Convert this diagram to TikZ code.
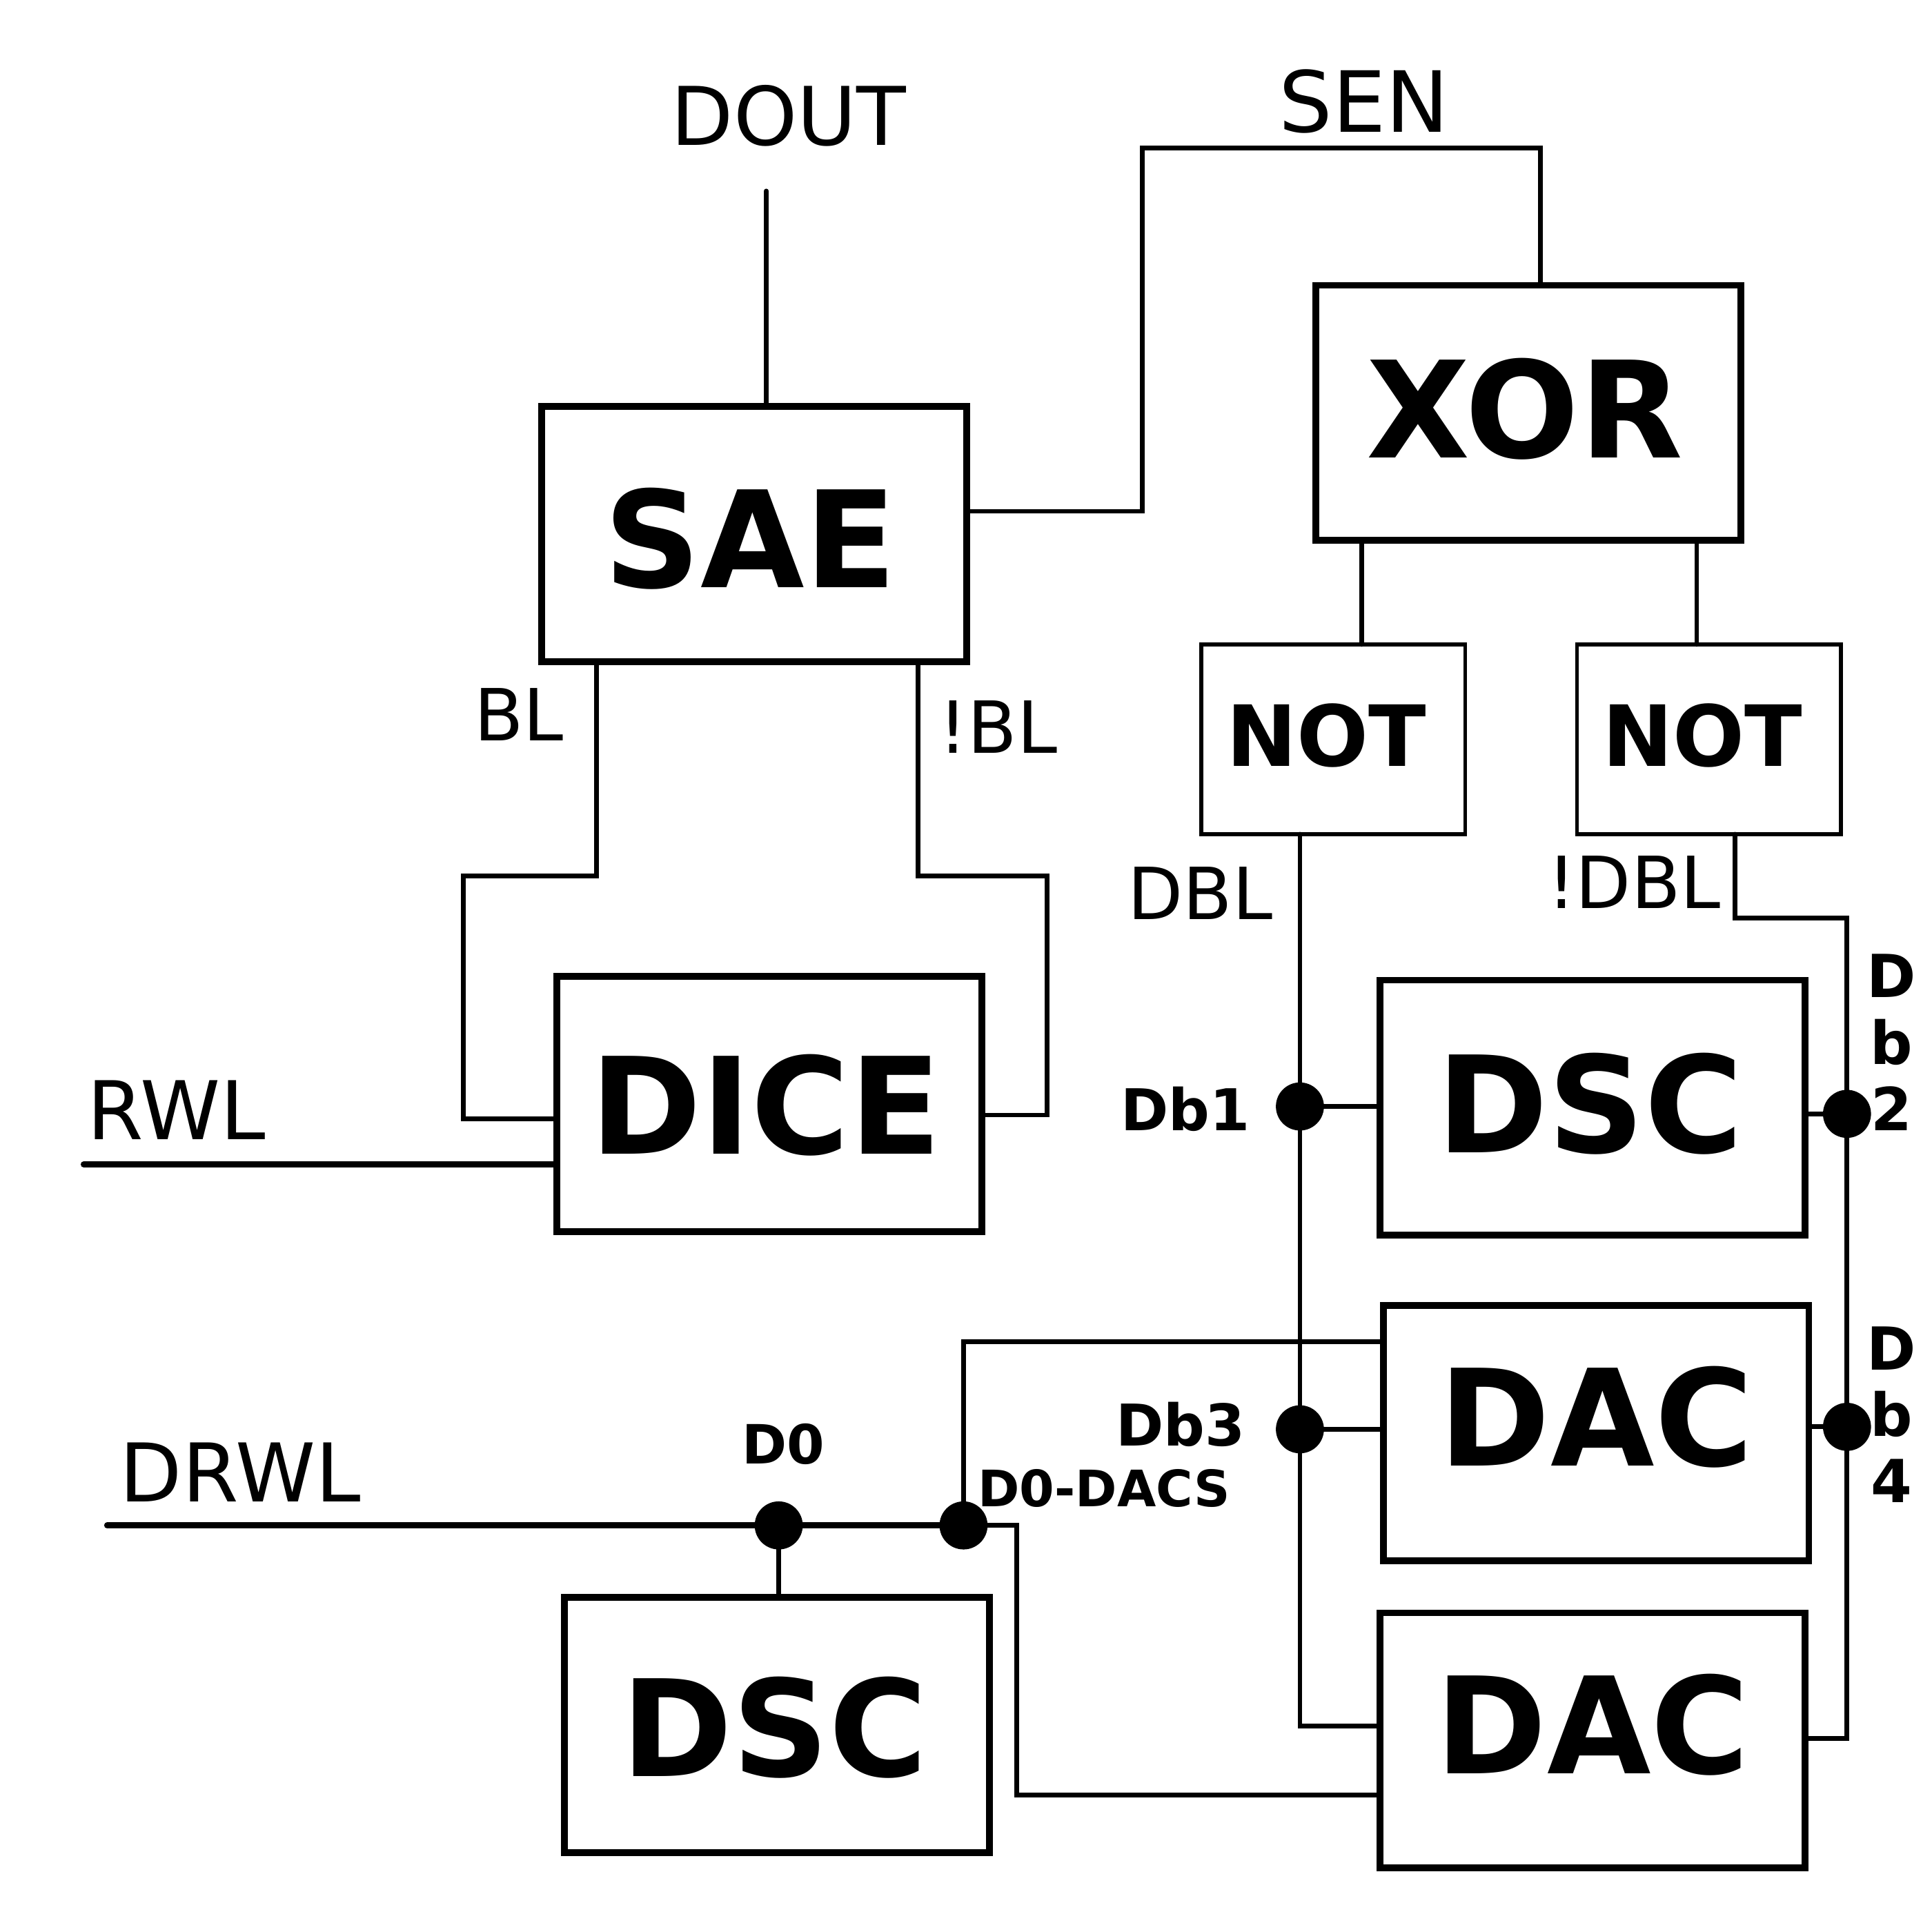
\documentclass[tikz,border=0pt]{standalone}
\usepackage{fontspec}
\setmainfont{DejaVu Sans}
\usetikzlibrary{calc}
\newcommand{\boxtxt}[3]{\raisebox{\dimexpr#2-\fontcharht\font`D/2\relax}[0pt][0pt]{\makebox[0pt][c]{\hspace*{\dimexpr(#1)*2\relax}#3}}}
\begin{document}
\begin{tikzpicture}[x=0.1mm,y=-0.1mm,
 box/.style={draw,line width=0.55mm,minimum width=34.5mm,minimum height=20.7mm,inner sep=0,outer sep=0,font=\bfseries\fontsize{31}{36}\selectfont},
 notbox/.style={draw,line width=0.3mm,minimum width=21.4mm,minimum height=15.4mm,inner sep=0,outer sep=0,font=\bfseries\fontsize{19.5}{22}\selectfont},
 wire/.style={line width=0.38mm,line cap=round},
 thickwire/.style={line width=0.5mm,line cap=round},
 dot/.style={circle,fill,inner sep=0,outer sep=0,minimum size=3.9mm},
 lab/.style={inner sep=0,font=\fontsize{18.7}{22}\selectfont},
 slab/.style={inner sep=0,font=\fontsize{16.6}{20}\selectfont},
 blab/.style={inner sep=0,font=\bfseries\fontsize{13.3}{15.35}\selectfont,align=center}]
\useasboundingbox[fill=white] (0,0) rectangle (1568,1568);

% boxes
\node[box] (SAE) at (612,433.5) {\boxtxt{-0.3mm}{-0.35mm}{SAE}};
\node[box] (XOR) at (1240.5,335) {\boxtxt{-0.3mm}{0.3mm}{XOR}};
\node[box] (DICE) at (624.5,896) {\boxtxt{-0.3mm}{-0.1mm}{DICE}};
\node[box] (DSCr) at (1292.5,899) {\boxtxt{-0.2mm}{0.3mm}{DSC}};
\node[box] (DACm) at (1295.5,1163) {\boxtxt{0mm}{1.3mm}{DAC}};
\node[box] (DACb) at (1292.5,1412.5) {\boxtxt{0mm}{1.25mm}{DAC}};
\node[box] (DSCl) at (630.5,1400) {\boxtxt{-0.2mm}{-0.2mm}{DSC}};
\node[notbox] (NOT1) at (1082,600) {\boxtxt{-0.55mm}{0.3mm}{NOT}};
\node[notbox] (NOT2) at (1387,600) {\boxtxt{-0.55mm}{0.3mm}{NOT}};

% dots
\node[dot] (db1) at (1055,898) {};
\node[dot] (db3) at (1055,1160) {};
\node[dot] (db2) at (1499,904) {};
\node[dot] (db4) at (1499,1158) {};
\node[dot] (d0) at (632,1238) {};
\node[dot] (dacs) at (782,1238) {};

% labels
\node[lab] (tDOUT) at (640,94) {DOUT};
\node[lab,font=\fontsize{19.5}{22}\selectfont] (tSEN) at (1107,82) {SEN};
\node[slab] (tBL) at (421,580) {BL};
\node[slab] (tnBL) at (810,590) {!BL};
\node[lab] (tRWL) at (143,901) {RWL};
\node[slab] (tDBL) at (974,725) {DBL};
\node[slab] (tnDBL) at (1326,716) {!DBL};
\node[lab] (tDRWL) at (195,1195) {DRWL};
\node[blab] (tDb1) at (962,900) {Db1};
\node[blab] (tDb3) at (958,1156) {Db3};
\node[blab,font=\bfseries\fontsize{12.5}{15}\selectfont] (tD0) at (636,1172) {D0};
\node[blab,font=\bfseries\fontsize{11.6}{14}\selectfont] (tD0DACS) at (896,1208) {D0-DACS};
\node[blab,font=\bfseries\fontsize{13.7}{15.35}\selectfont] (tDb2) at (1535,846) {D\\b\\2};
\node[blab,font=\bfseries\fontsize{13.7}{15.35}\selectfont] (tDb4) at (1535,1148) {D\\b\\4};

% free ends
\coordinate (doutEnd) at (622,155);
\coordinate (rwlEnd) at (68,945);
\coordinate (drwlEnd) at (87,1238);

% wires
\draw[wire] (doutEnd) -- (doutEnd |- SAE.north);
\draw[wire] (SAE.east |- 0,415) -| (927,120) -| (1250,0 |- XOR.north);
\draw[wire] (1105,0 |- XOR.south) -- (1105,0 |- NOT1.north);
\draw[wire] (1377,0 |- XOR.south) -- (1377,0 |- NOT2.north);
\draw[wire] (484,0 |- SAE.south) |- (376,711) |- (DICE.west |- 0,908);
\draw[wire] (745,0 |- SAE.south) |- (850,711) |- (DICE.east |- 0,905);
\draw[thickwire] (rwlEnd) -- (DICE.west |- rwlEnd);
\draw[wire] (1055,0 |- NOT1.south) -- (db1);
\draw[wire] (db1) -- (DSCr.west |- db1);
\draw[wire] (db1) -- (db3);
\draw[wire] (db3) -- (DACm.west |- db3);
\draw[wire] (db3) |- (DACb.west |- 0,1401);
\draw[wire] (1408,0 |- NOT2.south) |- (1499,745) -- (db2);
\draw[wire] (db2) -- (DSCr.east |- db2);
\draw[wire] (db2) -- (db4);
\draw[wire] (db4) -- (DACm.east |- db4);
\draw[wire] (db4) |- (DACb.east |- 0,1411);
\draw[thickwire] (drwlEnd) -- (d0);
\draw[thickwire] (d0) -- (dacs);
\draw[wire] (d0) -- (d0 |- DSCl.north);
\draw[wire] (dacs) |- (DACm.west |- 0,1089);
\draw[wire] (dacs) -| (825,1457) -- (DACb.west |- 0,1457);
\end{tikzpicture}
\end{document}
